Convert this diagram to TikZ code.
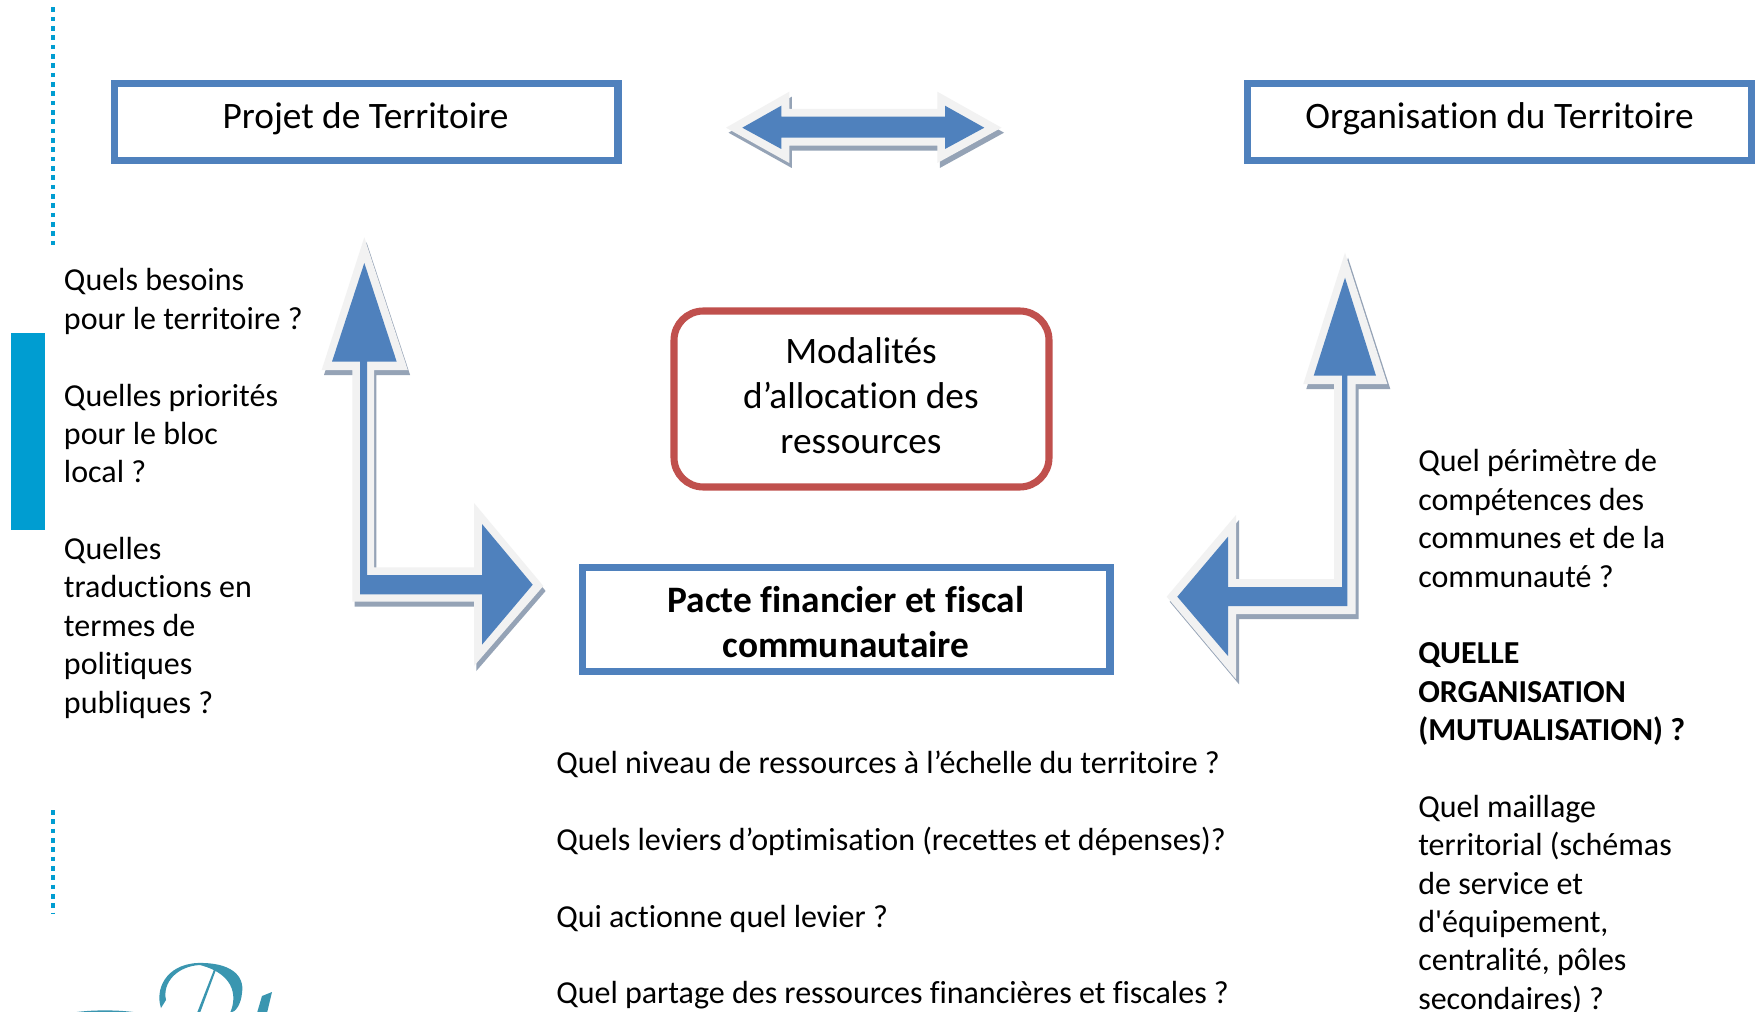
\documentclass[tikz,border=0pt]{standalone}
\usepackage{fontspec}
\setmainfont[Ligatures=NoCommon]{Carlito}
\newfontfamily\straightfont{Carlito}
\definecolor{bluefill}{HTML}{4F81BD}
\definecolor{halo}{HTML}{F2F2F2}
\definecolor{shade}{HTML}{95A3B6}
\definecolor{redline}{HTML}{C0504D}
\definecolor{cyanbar}{HTML}{009DD1}
\definecolor{logoteal}{HTML}{3A96B0}
\tikzset{
  framebox/.style={draw=bluefill,line width=5.3pt,fill=white,rectangle},
  para/.style={anchor=north west,inner sep=0,align=left,font=\fontsize{24}{28.78}\selectfont},
  title/.style={inner sep=0,align=center,font=\fontsize{28}{33.7}\selectfont},
  boldtitle/.style={title,font=\fontsize{28}{33.7}\selectfont\bfseries},
  dots/.style={cyanbar,line width=3.5pt,dash pattern=on 3.5pt off 3.5pt},
  shadepart/.style={fill=shade},
  halopart/.style={fill=halo},
  bluepart/.style={fill=bluefill},
}
\begin{document}
\begin{tikzpicture}[x=0.75pt,y=-0.75pt]
\useasboundingbox (0,0) rectangle (1762,1012);
\fill[white] (0,0) rectangle (1762,1012);
% side marks
\fill[cyanbar] (11,333) rectangle (45,530);
\draw[dots] (53,7.5) -- (53,246);
\draw[dots] (53,810) -- (53,914);
% logo
\begin{scope}
\clip (0,0) rectangle (1762,1012);
\fill[logoteal] (161,1008) .. controls (155,990) and (165,965) .. (197,963)
  .. controls (230,962) and (245,975) .. (242,993)
  .. controls (241,1004) and (236,1012) .. (230,1013)
  .. controls (236,1000) and (238,975) .. (200,965)
  .. controls (178,966) and (162,982) .. (166,1000) -- cycle;
\fill[logoteal] (215,967) -- (217,967) -- (200,1013) -- (197,1013) -- cycle;
\fill[logoteal] (272,992) -- (267,1013) -- (257,1013) -- (262,996) -- cycle;
\fill[logoteal] (70,1013) .. controls (90,1009.5) and (120,1009.5) .. (140,1013) -- cycle;
\end{scope}
% double arrow
\def\dblarrow{(726,127.7) -- (789.3,91.7) -- (789.3,109) -- (937.3,109) -- (937.3,91.7) -- (1001.5,127.7) -- (937.3,163) -- (937.3,145.7) -- (789.3,145.7) -- (789.3,163) -- cycle}
\fill[shadepart,shift={(2.5,5)}] \dblarrow;
\fill[halopart] \dblarrow;
\fill[bluepart] (742.3,127.7) -- (781.3,105.7) -- (781.3,116.7) -- (945,116.7) -- (945,105.7) -- (984.3,127.7) -- (945,149) -- (945,137.7) -- (781.3,137.7) -- (781.3,149) -- cycle;
% left bent arrow
\def\leftout{(364.3,237.3) -- (407.8,370) -- (374,370) -- (374,567.3) -- (474,567.3) -- (474,503) -- (543.3,586) -- (474,666) -- (474,601.7) -- (352.3,601.7) -- (352.3,370) -- (321.7,370) -- cycle}
\fill[shadepart,shift={(2.3,5)}] \leftout;
\fill[halopart] \leftout;
\fill[bluepart] (364.3,263) -- (396.7,361.7) -- (367,361.7) -- (367,575) -- (482,575) -- (482,524) -- (532.7,584.7) -- (482,644.7) -- (482,594.3) -- (360,594.3) -- (360,361.7) -- (332,361.7) -- cycle;
% right bent arrow
\def\rightout{(1345,252.7) -- (1387.3,384) -- (1355.7,384) -- (1355.7,614) -- (1236,614) -- (1236,679.3) -- (1166.7,596.7) -- (1236,515) -- (1236,579) -- (1334,579) -- (1334,384) -- (1303.3,384) -- cycle}
\fill[shadepart,shift={(3,5)}] \rightout;
\fill[halopart] \rightout;
\fill[bluepart] (1345,277.7) -- (1376,375.7) -- (1347.3,375.7) -- (1347.3,606) -- (1228,606) -- (1228,656) -- (1177.3,596.7) -- (1228,536.7) -- (1228,587) -- (1342,587) -- (1342,375.7) -- (1313.7,375.7) -- cycle;
% boxes
\draw[framebox] (114.5,83.5) rectangle (618,160.5);
\node[title] (projet) at (365.5,118.5) {Projet de Territoire};
\draw[framebox] (1247.5,83.5) rectangle (1751.8,160.5);
\node[title] (orga) at (1499.5,118.5) {Organisation du Territoire};
\draw[framebox,draw=redline,rounded corners=22pt] (674,311) rectangle (1049,487);
\node[title] (modal) at (861,396) {Modalités\\d’allocation des\\ressources};
\draw[framebox] (582.2,567.5) rectangle (1110,671.8);
\node[boldtitle] (pacte) at (846,622.5) {Pacte financier et fiscal\\communautaire};
% texts
\node[para] (leftq) at (63.7,268.5) {Quels besoins\\pour le territoire ?\\[28.78pt]Quelles priorités\\pour le bloc\\local ?\\[28.78pt]Quelles\\traductions en\\termes de\\politiques\\publiques ?};
\node[para] (midq) at (556,750.9) {Quel niveau de ressources à l’échelle du territoire ?\\[28.78pt]Quels leviers d’optimisation (recettes et dépenses)?\\[28.78pt]Qui actionne quel levier ?\\[28.78pt]Quel partage des ressources financières et fiscales ?};
\node[para] (rightq) at (1418,449.5) {Quel périmètre de\\compétences des\\communes et de la\\communauté ?\\[28.78pt]\textbf{QUELLE}\\\textbf{ORGANISATION}\\\textbf{(MUTUALISATION) ?}\\[28.78pt]Quel maillage\\territorial (schémas\\de service et\\d{\straightfont'}équipement,\\centralité, pôles\\secondaires) ?};
\end{tikzpicture}
\end{document}
